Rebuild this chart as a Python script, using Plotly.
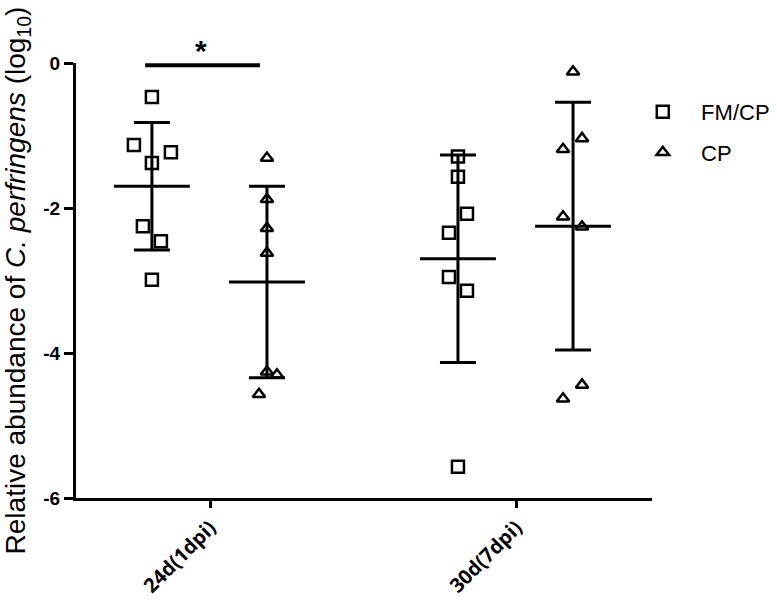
import plotly.graph_objects as go

# data
timepoints = ["24d(1dpi)", "30d(7dpi)"]
groups = ["FM/CP", "CP"]
y_ticks = [0, -2, -4, -6]
y_ticklabels = ["0", "-2", "-4", "-6"]

fmcp_24d = [-0.47, -1.13, -1.23, -1.38, -2.25, -2.46, -2.99]
cp_24d = [-1.31, -1.88, -2.28, -2.62, -4.26, -4.30, -4.57]
fmcp_30d = [-1.29, -1.57, -2.08, -2.34, -2.95, -3.14, -5.57]
cp_30d = [-0.12, -1.04, -1.19, -2.12, -2.26, -4.44, -4.63]

# mean and SD per group, order: FM/CP, CP
means_24d = [-1.70, -3.02]
sd_24d = [0.88, 1.32]
means_30d = [-2.70, -2.25]
sd_30d = [1.43, 1.71]

values = {"FM/CP": [fmcp_24d, fmcp_30d], "CP": [cp_24d, cp_30d]}
means = [means_24d, means_30d]
sds = [sd_24d, sd_30d]

# layout helpers (positions/styles)
px_per_unit = 306
group_offset = {"FM/CP": -0.19, "CP": 0.186}
jitter_px = {
    "FM/CP": [[0, -18, 19, 0, -9, 9, 0], [0, 0, 9, -9, -9, 9, 0]],
    "CP": [[0, 0, 0, 0, 0, 10, -8], [0, 9, -10, -10, 9, 9, -10]],
}
symbols = {"FM/CP": "square-open", "CP": "triangle-up-open"}
sizes = {"FM/CP": 12, "CP": 11}
legend_names = {"FM/CP": "&nbsp;&nbsp;&nbsp;FM/CP", "CP": "&nbsp;&nbsp;&nbsp;CP"}

fig = go.Figure()

# mean line + SD bars
for t in range(len(timepoints)):
    for g_i, g in enumerate(groups):
        x = t + group_offset[g]
        fig.add_trace(go.Scatter(
            x=[x], y=[means[t][g_i]], mode="markers",
            marker=dict(size=0.1, color="black"),
            error_x=dict(type="constant", value=0.124, width=0, thickness=3, color="black"),
            error_y=dict(type="data", array=[sds[t][g_i]], width=18, thickness=3, color="black"),
            showlegend=False, hoverinfo="skip", cliponaxis=False))

# individual points
for g in groups:
    xs, ys = [], []
    for t in range(len(timepoints)):
        for v, j in zip(values[g][t], jitter_px[g][t]):
            xs.append(t + group_offset[g] + j / px_per_unit)
            ys.append(v)
    fig.add_trace(go.Scatter(
        x=xs, y=ys, mode="markers", name=legend_names[g], legendgroup=g,
        marker=dict(symbol=symbols[g], size=sizes[g], color="black",
                    line=dict(width=2.5, color="black")),
        cliponaxis=False))

# significance bar
fig.add_shape(type="line", x0=-0.212, x1=0.163, y0=-0.03, y1=-0.03,
              line=dict(color="black", width=4), layer="above")
fig.add_annotation(x=-0.03, xref="x", y=1.028, yref="paper", text="<b>*</b>",
                   showarrow=False, yanchor="middle",
                   font=dict(family="Arial", size=30, color="black"))

fig.update_layout(
    width=777, height=601,
    margin=dict(l=76, r=125, t=63, b=103, autoexpand=False),
    plot_bgcolor="white", paper_bgcolor="white",
    font=dict(family="Arial", color="black"),
    legend=dict(x=0.984, y=0.936, xanchor="left", yanchor="top",
                font=dict(family="Arial", size=22, color="black"),
                tracegroupgap=9, traceorder="grouped",
                bgcolor="rgba(0,0,0,0)"),
)

fig.update_xaxes(
    range=[-0.438, 1.444], tickvals=[0, 1], ticktext=timepoints,
    tickangle=-45, ticks="outside", ticklen=7, tickwidth=3, tickcolor="black",
    showline=True, linewidth=3, linecolor="black",
    showgrid=False, zeroline=False, automargin=False,
    tickfont=dict(family="Open Sans", size=20, color="black", weight="bold"),
)
fig.update_yaxes(
    range=[-6, 0], tickvals=y_ticks, ticktext=y_ticklabels,
    ticks="outside", ticklen=9, tickwidth=3, tickcolor="black",
    showline=True, linewidth=3, linecolor="black",
    showgrid=False, zeroline=False, automargin=False,
    tickfont=dict(family="Arial", size=19, color="black", weight="bold"),
    title=dict(text="Relative abundance of <i>C. perfringens</i> (log<sub>10</sub>)",
               font=dict(family="Arial", size=28, color="black"), standoff=14),
)

# the page body has a default 8px margin; drop it so the figure sits at (0, 0)
fig.write_html("out.html", config={"displayModeBar": False},
               post_script="document.body.style.margin='0';")
